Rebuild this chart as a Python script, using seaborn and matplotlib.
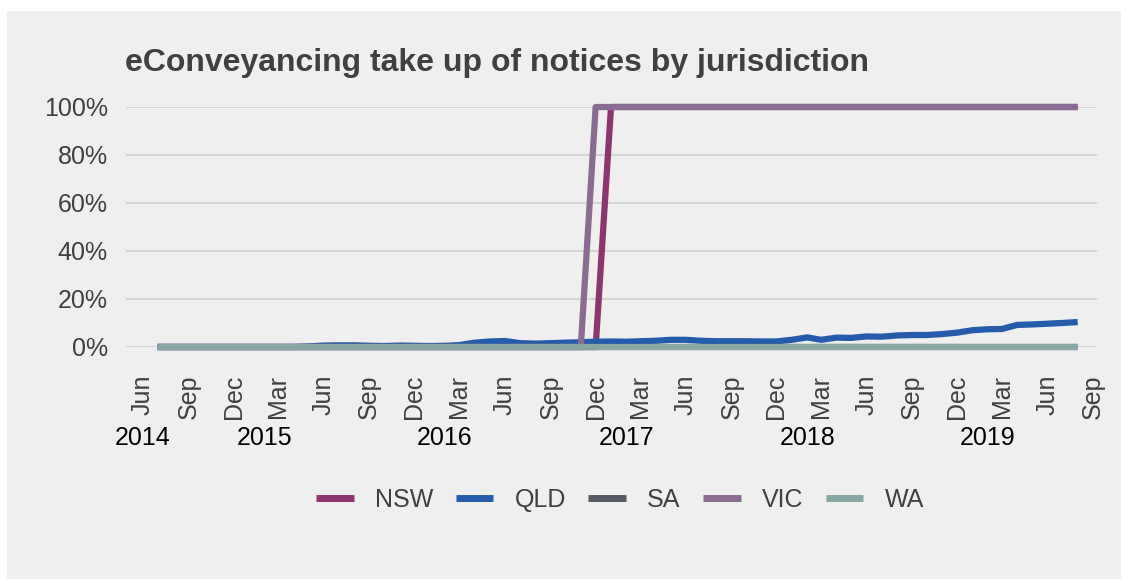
import matplotlib
matplotlib.use("Agg")
import matplotlib.pyplot as plt
import matplotlib.dates as mdates
from matplotlib.lines import Line2D
import numpy as np
import pandas as pd
import seaborn as sns

# monthly data, Jul 2014 - Aug 2019 (take up, %)
months = pd.date_range("2014-07-01", "2019-08-01", freq="MS")

qld = [0.0, 0.0, 0.0, 0.0, 0.0, 0.0,
       0.0, 0.0, 0.0, 0.0, 0.2, 0.6, 0.7, 0.7, 0.5, 0.4, 0.6, 0.5,
       0.4, 0.5, 0.8, 1.8, 2.3, 2.5, 1.6, 1.4, 1.6, 1.8, 2.0, 2.2,
       2.3, 2.2, 2.4, 2.6, 3.0, 3.0, 2.6, 2.4, 2.4, 2.4, 2.3, 2.3,
       3.0, 4.0, 3.0, 3.9, 3.8, 4.4, 4.3, 4.8, 5.0, 5.0, 5.4, 6.0,
       7.0, 7.4, 7.5, 9.2, 9.4, 9.7, 10.0, 10.4]
nsw = [0.0] * 30 + [100.0] * 32   # switch Jan 2017
vic = [0.0] * 29 + [100.0] * 33   # switch Dec 2016
sa = [0.0] * 62
wa = [0.0] * 62

jurisdictions = ["NSW", "QLD", "SA", "VIC", "WA"]
colours = ["#8E346E", "#255BAB", "#575B63", "#8A6C91", "#88A6A4"]

year_labels = ["2014", "2015", "2016", "2017", "2018", "2019"]
year_pos = pd.to_datetime(["2014-06-01", "2015-02-01", "2016-02-01",
                           "2017-02-01", "2018-02-01", "2019-02-01"])

df = pd.DataFrame({"date": np.tile(months, 5),
                   "value": nsw + qld + sa + vic + wa,
                   "jurisdiction": np.repeat(jurisdictions, len(months))})

sns.set_theme(style="whitegrid")
plt.rcParams["font.family"] = ["Liberation Sans", "DejaVu Sans"]
TextCol = "#404040"
TickSize = 18

fig = plt.figure(figsize=(11.21, 5.79), dpi=100)
fig.patch.set_facecolor("white")
fig.patches.append(plt.Rectangle((7 / 1121, 0), 1, 1 - 11 / 579, transform=fig.transFigure,
                                 facecolor="#EFEFEF", edgecolor="none", zorder=-1))
ax = fig.add_axes([126 / 1121, 1 - 347 / 579, (1097 - 126) / 1121, 240 / 579])
ax.set_facecolor("#EFEFEF")

palette = dict(zip(jurisdictions, colours))
sns.lineplot(data=df, x="date", y="value", hue="jurisdiction", hue_order=jurisdictions,
             palette=palette, linewidth=4.5, ax=ax, legend=False)
for ln in ax.get_lines():
    ln.set_clip_on(False)
    ln.set_solid_capstyle("butt")

ax.set_ylim(0, 100)
ax.set_yticks([0, 20, 40, 60, 80, 100])
ax.set_yticklabels([f"{v}%" for v in range(0, 101, 20)])
ax.set_xlim(pd.Timestamp("2014-06-01") - pd.Timedelta(days=34),
            pd.Timestamp("2019-09-01") + pd.Timedelta(days=8))
ax.xaxis.set_major_locator(mdates.MonthLocator(bymonth=[3, 6, 9, 12]))
ax.xaxis.set_major_formatter(mdates.DateFormatter("%b"))
ax.grid(axis="x", visible=False)
ax.grid(axis="y", color="#D0D0D0", linewidth=1.3)
for s in ax.spines.values():
    s.set_visible(False)
ax.tick_params(axis="y", length=0, pad=13, labelsize=TickSize, labelcolor=TextCol)
ax.tick_params(axis="x", length=0, pad=20, labelsize=TickSize, labelcolor=TextCol,
               labelrotation=90)
for lab in ax.get_xticklabels():
    lab.set_va("top")
ax.set_xlabel("")
ax.set_ylabel("")

for lab, pos in zip(year_labels, year_pos):
    ax.text(pos, -0.38, lab, transform=ax.get_xaxis_transform(), ha="center",
            va="center", fontsize=TickSize, color="black")

fig.text(125 / 1121, 1 - 63 / 579, "eConveyancing take up of notices by jurisdiction",
         fontsize=23, fontweight="bold", color=TextCol, ha="left", va="center")

handles = [Line2D([0], [0], color=c, linewidth=5, solid_capstyle="butt") for c in colours]
fig.legend(handles, jurisdictions, loc="center", bbox_to_anchor=(620 / 1121, 1 - 500 / 579),
           ncol=5, frameon=False, fontsize=TickSize, labelcolor=TextCol,
           handlelength=1.5, handletextpad=0.85, columnspacing=0.9)

plt.savefig("out.png", dpi=100, facecolor=fig.get_facecolor())
